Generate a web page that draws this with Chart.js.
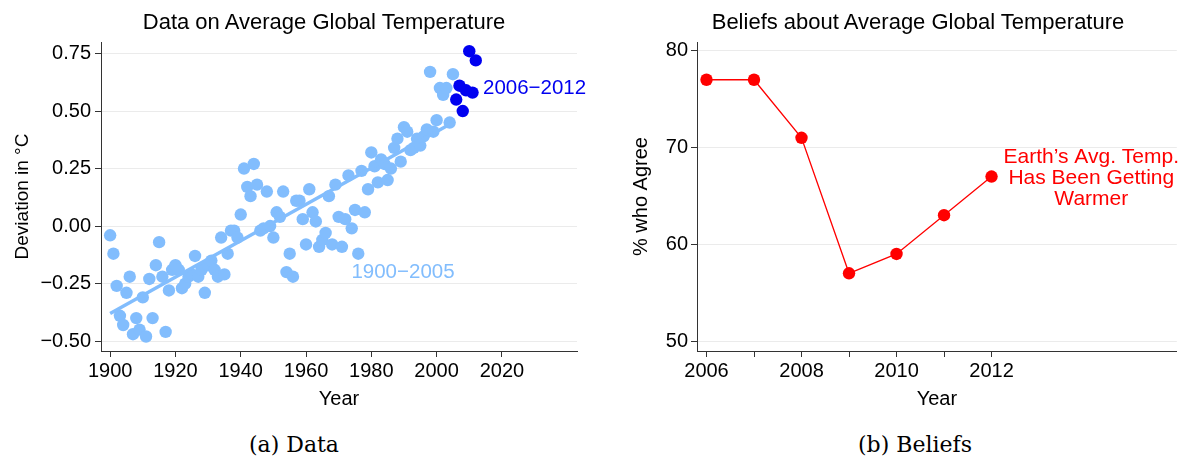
<!DOCTYPE html>
<html>
<head>
<meta charset="utf-8">
<script src="https://cdn.jsdelivr.net/npm/chart.js@4.4.1/dist/chart.umd.min.js"></script>
<style>
  body { margin: 0; background: #fff; }
  #page { position: relative; width: 1183px; height: 469px; overflow: hidden; font-family: "Liberation Sans", Arial, sans-serif; color: #000; }
  canvas { position: absolute; top: 0; }
  #chartA { left: 0; }
  #chartB { left: 600px; }
  .title { position: absolute; top: 10px; font-size: 22px; line-height: 24px; white-space: nowrap; transform: translateX(-50%); }
  .caption { position: absolute; top: 432px; font-family: "DejaVu Serif", serif; font-size: 22px; line-height: 26px; white-space: nowrap; transform: translateX(-50%); }
</style>
</head>
<body>
<div id="page">
  <canvas id="chartA" width="600" height="420"></canvas>
  <canvas id="chartB" width="583" height="420"></canvas>
  <div class="title" style="left:324px">Data on Average Global Temperature</div>
  <div class="title" style="left:918px">Beliefs about Average Global Temperature</div>
  <div class="caption" style="left:294px">(a) Data</div>
  <div class="caption" style="left:915px">(b) Beliefs</div>
</div>
<script>
// temperature deviations, 1900-2005 (light blue)
const earlyYears = [
  1900, 1901, 1902, 1903, 1904, 1905, 1906, 1907, 1908, 1909,
  1910, 1911, 1912, 1913, 1914, 1915, 1916, 1917, 1918, 1919,
  1920, 1921, 1922, 1923, 1924, 1925, 1926, 1927, 1928, 1929,
  1930, 1931, 1932, 1933, 1934, 1935, 1936, 1937, 1938, 1939,
  1940, 1941, 1942, 1943, 1944, 1945, 1946, 1947, 1948, 1949,
  1950, 1951, 1952, 1953, 1954, 1955, 1956, 1957, 1958, 1959,
  1960, 1961, 1962, 1963, 1964, 1965, 1966, 1967, 1968, 1969,
  1970, 1971, 1972, 1973, 1974, 1975, 1976, 1977, 1978, 1979,
  1980, 1981, 1982, 1983, 1984, 1985, 1986, 1987, 1988, 1989,
  1990, 1991, 1992, 1993, 1994, 1995, 1996, 1997, 1998, 1999,
  2000, 2001, 2002, 2003, 2004, 2005
];
const earlyTemps = [
  -0.04, -0.12, -0.26, -0.39, -0.43, -0.29, -0.22, -0.47, -0.40, -0.45,
  -0.31, -0.48, -0.23, -0.40, -0.17, -0.07, -0.22, -0.46, -0.28, -0.19,
  -0.17, -0.19, -0.27, -0.25, -0.22, -0.21, -0.13, -0.22, -0.19, -0.29,
  -0.17, -0.15, -0.19, -0.22, -0.05, -0.21, -0.12, -0.02, -0.02, -0.05,
  0.05, 0.25, 0.17, 0.13, 0.27, 0.18, -0.02, -0.01, 0.15, 0.00,
  -0.05, 0.06, 0.04, 0.15, -0.20, -0.12, -0.22, 0.11, 0.11, 0.03,
  -0.08, 0.16, 0.06, 0.02, -0.09, -0.06, -0.03, 0.13, -0.08, 0.18,
  0.04, -0.09, 0.03, 0.22, -0.01, 0.07, -0.12, 0.24, 0.06, 0.16,
  0.32, 0.26, 0.19, 0.29, 0.27, 0.20, 0.25, 0.34, 0.38, 0.28,
  0.43, 0.41, 0.33, 0.34, 0.38, 0.35, 0.39, 0.42, 0.67, 0.41,
  0.46, 0.60, 0.57, 0.60, 0.45, 0.66
];
// 2006-2012 (dark blue)
const lateYears = [2006, 2007, 2008, 2009, 2010, 2011, 2012];
const lateTemps = [0.55, 0.61, 0.50, 0.59, 0.76, 0.58, 0.72];
// fitted line ends
const fitYears = [1900, 2005];
const fitTemps = [-0.38, 0.45];

const tempXTicks = [1900, 1920, 1940, 1960, 1980, 2000, 2020];
const tempYTicks = [-0.5, -0.25, 0, 0.25, 0.5, 0.75];

// beliefs panel
const beliefYears = [2006, 2007, 2008, 2009, 2010, 2011, 2012];
const beliefPct = [77, 77, 71, 57, 59, 63, 67];
const beliefXTicks = [2006, 2007, 2008, 2009, 2010, 2011, 2012];
const beliefYTicks = [50, 60, 70, 80];

const lightBlue = "#82bdfd";
const darkBlue = "#0000f0";
const red = "#ff0000";
const gridGray = "#ebebeb";
const axisGray = "#333";

Chart.defaults.font.family = '"Liberation Sans", Arial, sans-serif';
Chart.defaults.color = "#000";

function pairs(xs, ys) {
  return xs.map((x, i) => ({ x: x, y: ys[i] }));
}

// text labels placed in data coordinates
const textNotes = {
  id: "textNotes",
  afterDatasetsDraw(chart, args, opts) {
    const ctx = chart.ctx;
    const xs = chart.scales.x;
    const ys = chart.scales.y;
    (opts.items || []).forEach(function (n) {
      ctx.save();
      ctx.font = n.font;
      ctx.fillStyle = n.color;
      ctx.textAlign = n.align;
      ctx.textBaseline = "middle";
      const x = xs.getPixelForValue(n.x);
      const y0 = ys.getPixelForValue(n.y);
      const mid = (n.lines.length - 1) / 2;
      n.lines.forEach(function (t, i) {
        ctx.fillText(t, x, y0 + (i - mid) * n.lineHeight);
      });
      ctx.restore();
    });
  }
};

function fixedTicks(list) {
  return function (scale) {
    scale.ticks = list.map(v => ({ value: v }));
  };
}

new Chart(document.getElementById("chartA"), {
  type: "scatter",
  data: {
    datasets: [
      {
        data: pairs(lateYears, lateTemps),
        backgroundColor: darkBlue,
        borderWidth: 0,
        pointRadius: 6.2,
        order: 0
      },
      {
        data: pairs(fitYears, fitTemps),
        showLine: true,
        borderColor: lightBlue,
        borderWidth: 3.5,
        pointRadius: 0,
        order: 1
      },
      {
        data: pairs(earlyYears, earlyTemps),
        backgroundColor: lightBlue,
        borderWidth: 0,
        pointRadius: 6.2,
        order: 2
      }
    ]
  },
  options: {
    responsive: false,
    animation: false,
    layout: { padding: { top: 42, right: 23, left: 0, bottom: 0 } },
    plugins: {
      legend: { display: false },
      tooltip: { enabled: false },
      textNotes: {
        items: [
          { lines: ["2006\u22122012"], x: 2014.2, y: 0.598, align: "left", font: "20.5px 'Liberation Sans'", color: darkBlue, lineHeight: 21 },
          { lines: ["1900\u22122005"], x: 1973.9, y: -0.2, align: "left", font: "20.5px 'Liberation Sans'", color: lightBlue, lineHeight: 21 }
        ]
      }
    },
    scales: {
      x: {
        type: "linear",
        min: 1897.2,
        max: 2043,
        afterBuildTicks: fixedTicks(tempXTicks),
        afterFit: function (s) { s.height = 69; },
        border: { color: axisGray, width: 1 },
        grid: { drawOnChartArea: false, drawTicks: true, tickLength: 6, tickColor: axisGray },
        ticks: { font: { size: 20 }, padding: 2, maxRotation: 0, autoSkip: false, callback: v => String(v) },
        title: { display: true, text: "Year", font: { size: 20 }, padding: { top: 0, bottom: 9 } }
      },
      y: {
        type: "linear",
        min: -0.543,
        max: 0.80,
        afterBuildTicks: fixedTicks(tempYTicks),
        afterFit: function (s) { s.width = 101; },
        border: { color: axisGray, width: 1 },
        grid: { color: gridGray, lineWidth: 1, drawTicks: true, tickLength: 6, tickColor: axisGray },
        ticks: { font: { size: 20 }, padding: 4, autoSkip: false, callback: v => v.toFixed(2).replace("-", "\u2212") },
        title: { display: true, text: "Deviation in \u00b0C", font: { size: 19 }, padding: { top: 11, bottom: 0 } }
      }
    }
  },
  plugins: [textNotes]
});

new Chart(document.getElementById("chartB"), {
  type: "line",
  data: {
    datasets: [
      {
        data: pairs(beliefYears, beliefPct),
        borderColor: red,
        borderWidth: 1.3,
        backgroundColor: red,
        pointBackgroundColor: red,
        pointBorderWidth: 0,
        pointRadius: 6.2,
        tension: 0
      }
    ]
  },
  options: {
    responsive: false,
    animation: false,
    layout: { padding: { top: 42, right: 0, left: 0, bottom: 0 } },
    plugins: {
      legend: { display: false },
      tooltip: { enabled: false },
      textNotes: {
        items: [
          { lines: ["Earth\u2019s Avg. Temp.", "Has Been Getting", "Warmer"], x: 2014.1, y: 66.87, align: "center", font: "21px 'Liberation Sans'", color: red, lineHeight: 21 }
        ]
      }
    },
    scales: {
      x: {
        type: "linear",
        min: 2005.8,
        max: 2015.9,
        afterBuildTicks: fixedTicks(beliefXTicks),
        afterFit: function (s) { s.height = 69; },
        border: { color: axisGray, width: 1 },
        grid: { drawOnChartArea: false, drawTicks: true, tickLength: 6, tickColor: axisGray },
        ticks: { font: { size: 20 }, padding: 2, maxRotation: 0, autoSkip: false, callback: v => (v % 2 === 0 ? String(v) : "") },
        title: { display: true, text: "Year", font: { size: 20 }, padding: { top: 0, bottom: 9 } }
      },
      y: {
        type: "linear",
        min: 48.97,
        max: 80.9,
        afterBuildTicks: fixedTicks(beliefYTicks),
        afterFit: function (s) { s.width = 97; },
        border: { color: axisGray, width: 1 },
        grid: { color: gridGray, lineWidth: 1, drawTicks: true, tickLength: 6, tickColor: axisGray },
        ticks: { font: { size: 20 }, padding: 3, autoSkip: false, callback: v => String(v) },
        title: { display: true, text: "% who Agree", font: { size: 20 }, padding: { top: 29, bottom: 0 } }
      }
    }
  },
  plugins: [textNotes]
});
</script>
</body>
</html>
